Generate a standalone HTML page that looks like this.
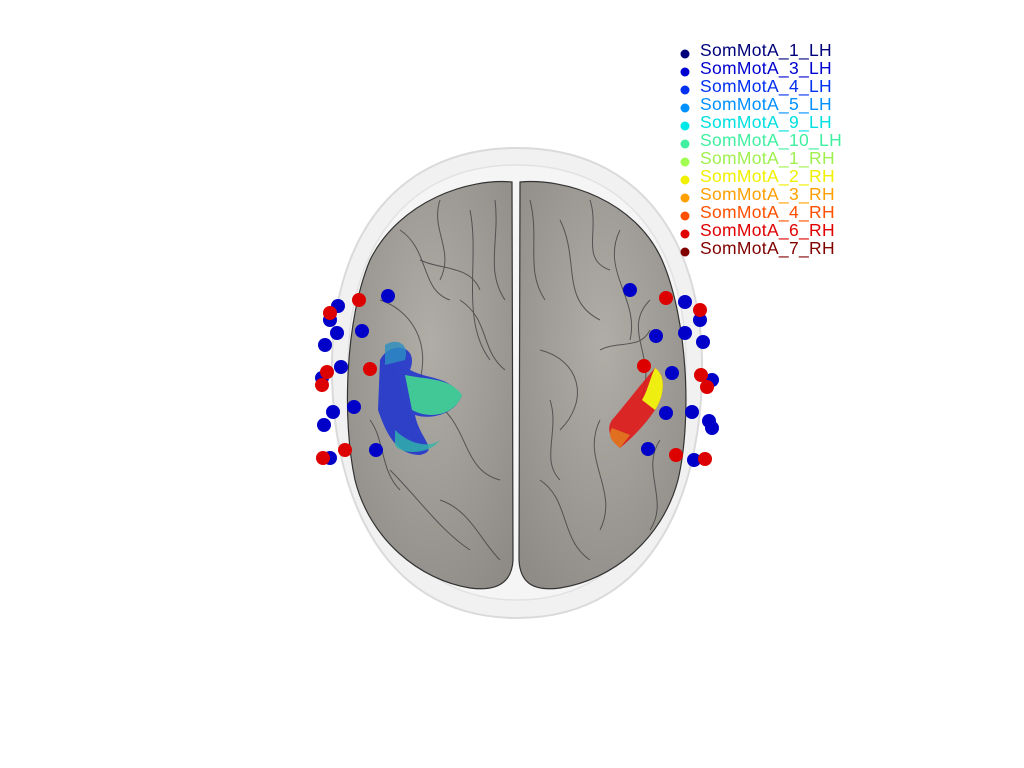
<!DOCTYPE html>
<html><head><meta charset="utf-8"><style>
html,body{margin:0;padding:0;background:#fff;width:1024px;height:768px;overflow:hidden}
</style></head><body>
<svg width="1024" height="768" viewBox="0 0 1024 768" xmlns="http://www.w3.org/2000/svg">
<defs>
<radialGradient id="br" cx="50%" cy="40%" r="70%"><stop offset="0" stop-color="#b0ada7"/><stop offset="1" stop-color="#8f8c87"/></radialGradient>
</defs>
<!-- head -->
<path d="M517 148 C640 148 700 240 702 360 C704 480 660 618 517 618 C374 618 330 480 332 360 C334 240 394 148 517 148 Z" fill="#f1f1f1" stroke="#dadada" stroke-width="2"/>
<path d="M517 165 C630 165 685 250 686 360 C688 470 645 600 517 600 C389 600 346 470 348 360 C350 250 404 165 517 165 Z" fill="#f5f5f5" stroke="#e2e2e2" stroke-width="1.5"/>
<!-- brain -->
<path d="M512 182 C470 178 400 200 370 260 C345 320 342 420 355 480 C370 540 420 580 470 588 C500 592 512 580 513 560 Z" fill="url(#br)" stroke="#333" stroke-width="1.2"/>
<path d="M520 182 C565 178 635 200 662 260 C688 320 692 420 678 480 C662 540 612 580 560 588 C530 592 520 580 519 560 Z" fill="url(#br)" stroke="#333" stroke-width="1.2"/>
<g stroke="#3a3a3a" stroke-width="1" fill="none" opacity="0.75">
<path d="M400 230 C430 250 420 290 450 300 M470 210 C480 260 460 320 490 360 M380 300 C410 310 430 340 420 380 M430 400 C470 420 460 470 500 480 M390 470 C420 500 440 530 470 550 M460 300 C490 320 480 350 505 370"/>
<path d="M440 200 C430 230 455 250 440 280 M495 200 C500 240 485 270 505 300 M370 420 C385 440 380 470 400 490 M440 500 C470 510 480 540 500 560 M420 260 C440 270 470 265 480 290"/>
<path d="M560 220 C580 260 560 300 600 320 M620 230 C600 270 640 300 630 340 M540 350 C580 360 590 400 560 430 M600 420 C580 460 620 490 600 530 M650 300 C620 330 660 360 640 400 M540 480 C570 500 560 540 590 560"/>
<path d="M530 200 C540 240 525 270 545 300 M590 200 C600 230 580 260 610 270 M660 440 C640 470 670 500 650 530 M550 400 C560 430 540 460 560 480 M600 350 C620 340 640 350 650 330"/>
</g>
<!-- colored patches -->
<path d="M380 360 C390 340 420 345 410 370 C430 380 445 375 462 395 C455 415 430 420 415 415 C420 440 440 450 420 455 C395 455 385 430 378 410 Z" fill="#1a2fd0" opacity="0.85"/>
<path d="M405 375 C430 380 450 378 462 395 C455 415 430 420 412 410 Z" fill="#45d690" opacity="0.9"/>
<path d="M385 345 C395 338 410 342 405 360 L385 365 Z" fill="#2a8ec0" opacity="0.8"/>
<path d="M395 430 C410 445 430 448 440 440 C430 455 400 455 395 445 Z" fill="#2fb5a8" opacity="0.8"/>
<path d="M655 368 C666 375 665 395 655 410 C645 425 632 438 620 448 C610 440 606 428 612 420 C625 405 640 385 655 368 Z" fill="#e01818" opacity="0.9"/>
<path d="M655 368 C666 375 665 395 655 410 L642 400 C648 390 650 378 655 368 Z" fill="#eeee10"/>
<path d="M620 448 C610 440 608 435 612 428 L630 435 Z" fill="#e07020"/>
<!-- electrodes -->
<g>
<g fill="#0000c8">
<circle cx="388" cy="296" r="7"/><circle cx="338" cy="306" r="7"/><circle cx="330" cy="320" r="7"/><circle cx="337" cy="333" r="7"/><circle cx="362" cy="331" r="7"/><circle cx="325" cy="345" r="7"/><circle cx="341" cy="367" r="7"/><circle cx="322" cy="378" r="7"/><circle cx="333" cy="412" r="7"/><circle cx="324" cy="425" r="7"/><circle cx="354" cy="407" r="7"/><circle cx="376" cy="450" r="7"/><circle cx="330" cy="458" r="7"/>
<circle cx="630" cy="290" r="7"/><circle cx="685" cy="302" r="7"/><circle cx="700" cy="320" r="7"/><circle cx="656" cy="336" r="7"/><circle cx="685" cy="333" r="7"/><circle cx="703" cy="342" r="7"/><circle cx="672" cy="373" r="7"/><circle cx="712" cy="380" r="7"/><circle cx="666" cy="413" r="7"/><circle cx="692" cy="412" r="7"/><circle cx="709" cy="421" r="7"/><circle cx="712" cy="428" r="7"/><circle cx="648" cy="449" r="7"/><circle cx="694" cy="460" r="7"/>
</g>
<g fill="#dd0000">
<circle cx="359" cy="300" r="7"/><circle cx="330" cy="313" r="7"/><circle cx="370" cy="369" r="7"/><circle cx="327" cy="372" r="7"/><circle cx="322" cy="385" r="7"/><circle cx="345" cy="450" r="7"/><circle cx="323" cy="458" r="7"/>
<circle cx="666" cy="298" r="7"/><circle cx="700" cy="310" r="7"/><circle cx="644" cy="366" r="7"/><circle cx="701" cy="375" r="7"/><circle cx="707" cy="387" r="7"/><circle cx="676" cy="455" r="7"/><circle cx="705" cy="459" r="7"/>
</g>
</g>
<!-- legend -->
<g font-family="Liberation Sans, sans-serif" font-size="17.5" textLength="0" style="letter-spacing:0.3px">
<circle cx="685" cy="54" r="4.5" fill="#00007a"/><text x="700" y="56" fill="#00007a">SomMotA_1_LH</text>
<circle cx="685" cy="72" r="4.5" fill="#0000d0"/><text x="700" y="74" fill="#0000d0">SomMotA_3_LH</text>
<circle cx="685" cy="90" r="4.5" fill="#0030f0"/><text x="700" y="92" fill="#0030f0">SomMotA_4_LH</text>
<circle cx="685" cy="108" r="4.5" fill="#0090ff"/><text x="700" y="110" fill="#0090ff">SomMotA_5_LH</text>
<circle cx="685" cy="126" r="4.5" fill="#00e8e8"/><text x="700" y="128" fill="#00e0e0">SomMotA_9_LH</text>
<circle cx="685" cy="144" r="4.5" fill="#40f0a0"/><text x="700" y="146" fill="#40f0a0">SomMotA_10_LH</text>
<circle cx="685" cy="162" r="4.5" fill="#a0ff50"/><text x="700" y="164" fill="#a0f050">SomMotA_1_RH</text>
<circle cx="685" cy="180" r="4.5" fill="#f0f000"/><text x="700" y="182" fill="#f0f000">SomMotA_2_RH</text>
<circle cx="685" cy="198" r="4.5" fill="#ffa000"/><text x="700" y="200" fill="#ffa000">SomMotA_3_RH</text>
<circle cx="685" cy="216" r="4.5" fill="#ff5000"/><text x="700" y="218" fill="#ff5000">SomMotA_4_RH</text>
<circle cx="685" cy="234" r="4.5" fill="#e00000"/><text x="700" y="236" fill="#e00000">SomMotA_6_RH</text>
<circle cx="685" cy="252" r="4.5" fill="#800000"/><text x="700" y="254" fill="#800000">SomMotA_7_RH</text>
</g>
</svg>
</body></html>
